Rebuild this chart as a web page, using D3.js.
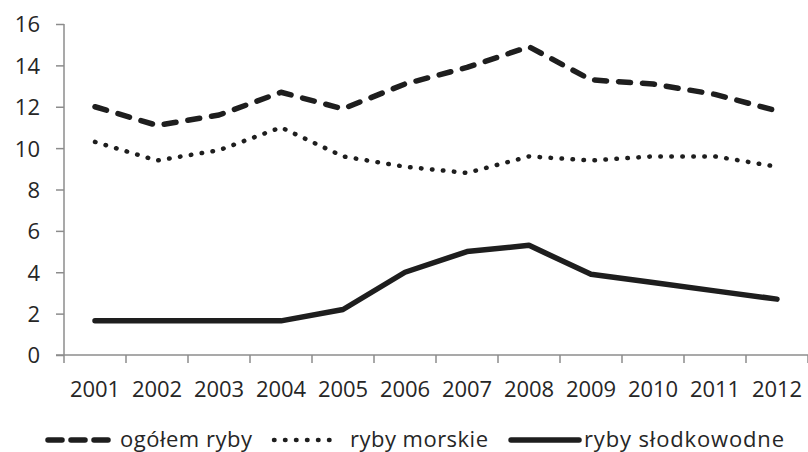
<!DOCTYPE html>
<html>
<head>
<meta charset="utf-8">
<script src="https://cdn.jsdelivr.net/npm/d3@7"></script>
<style>
  html, body { margin: 0; padding: 0; background: #fff; }
  svg { display: block; }
  .axis path, .axis line { stroke: #8c8c8c; stroke-width: 1.5; }
  .axis text { fill: #262626; font-size: 22px; font-family: 'Open Sans', sans-serif; }
</style>
</head>
<body>
<div id="chart"></div>
<script>
// ── Data ─────────────────────────────────────────────
const years = ['2001', '2002', '2003', '2004', '2005', '2006', '2007', '2008', '2009', '2010', '2011', '2012'];
const ogolem = [12.0, 11.1, 11.6, 12.7, 11.9, 13.1, 13.9, 14.9, 13.3, 13.1, 12.6, 11.8];
const morskie = [10.3, 9.4, 9.9, 11.0, 9.6, 9.1, 8.8, 9.6, 9.4, 9.6, 9.6, 9.1];
const slodkowodne = [1.65, 1.65, 1.65, 1.65, 2.2, 4.0, 5.0, 5.3, 3.9, 3.5, 3.1, 2.7];
const yTicks = [0, 2, 4, 6, 8, 10, 12, 14, 16];
const seriesNames = ['ogółem ryby', 'ryby morskie', 'ryby słodkowodne'];

const W = 808, H = 452;
const M = { top: 24, right: 0, bottom: 97, left: 64 };

const svg = d3.select('#chart').append('svg').attr('width', W).attr('height', H);

const x = d3.scaleBand().domain(years).range([M.left, W - M.right]);
const y = d3.scaleLinear().domain([0, 16]).range([H - M.bottom, M.top]);

const styles = [
     { dash: '12,12', width: 5.5, cap: 'round' },
     { dash: '0.5,10.5', width: 4.5, cap: 'round' },
     { dash: null, width: 5.5, cap: 'round' }
];

// axes
const yAx = svg.append('g').attr('class', 'axis')
     .attr('transform', `translate(${M.left},0)`)
     .call(d3.axisLeft(y).tickValues(yTicks).tickSize(8).tickSizeOuter(0).tickPadding(16));
yAx.select('.domain').attr('d', `M0,${y(16)}V${y(0)}`);
yAx.selectAll('text').attr('dy', '0.36em');

const xAx = svg.append('g').attr('class', 'axis')
     .attr('transform', `translate(0,${y(0)})`)
     .call(d3.axisBottom(x).tickSize(0).tickPadding(0));
xAx.select('.domain').attr('d', `M${M.left - 8},0H${W}`);
xAx.selectAll('.tick text').attr('y', 42).attr('dy', 0).attr('textLength', 50);
// boundary ticks between categories
xAx.selectAll('.bticks')
     .data(years.concat(['end']))
     .join('line')
     .attr('x1', (d, i) => i < years.length ? x(d) : x(years[years.length - 1]) + x.bandwidth())
     .attr('x2', (d, i) => i < years.length ? x(d) : x(years[years.length - 1]) + x.bandwidth())
     .attr('y1', 0).attr('y2', 8)
     .attr('stroke', '#8c8c8c').attr('stroke-width', 1.5);

// lines
const cx = d => x(d) + x.bandwidth() / 2;
const line = d3.line().x(d => cx(d.year)).y(d => y(d.v));
[ogolem, morskie, slodkowodne].forEach((vals, i) => {
     const pts = years.map((yr, j) => ({ year: yr, v: vals[j] }));
     svg.append('path')
          .attr('d', line(pts))
          .attr('fill', 'none')
          .attr('stroke', '#1e1e1e')
          .attr('stroke-width', styles[i].width)
          .attr('stroke-linecap', styles[i].cap)
          .attr('stroke-linejoin', 'round')
          .attr('stroke-dasharray', styles[i].dash);
});

// legend
const legY = 440;
const legItems = [
     { x1: 48, x2: 108, tx: 120 },
     { x1: 274, x2: 336, tx: 350 },
     { x1: 511, x2: 579, tx: 584 }
];
const leg = svg.append('g');
legItems.forEach((it, i) => {
     leg.append('line')
          .attr('x1', it.x1).attr('x2', it.x2).attr('y1', legY).attr('y2', legY)
          .attr('stroke', '#1e1e1e')
          .attr('stroke-width', styles[i].width)
          .attr('stroke-linecap', styles[i].cap)
          .attr('stroke-dasharray', i === 0 ? '14,9' : styles[i].dash);
     leg.append('text')
          .attr('x', it.tx).attr('y', legY + 7)
          .attr('fill', '#262626').attr('font-size', '22px')
          .attr('font-family', "'Open Sans', sans-serif")
          .attr('textLength', [132, 138, 200][i])
          .text(seriesNames[i]);
});
</script>
</body>
</html>
